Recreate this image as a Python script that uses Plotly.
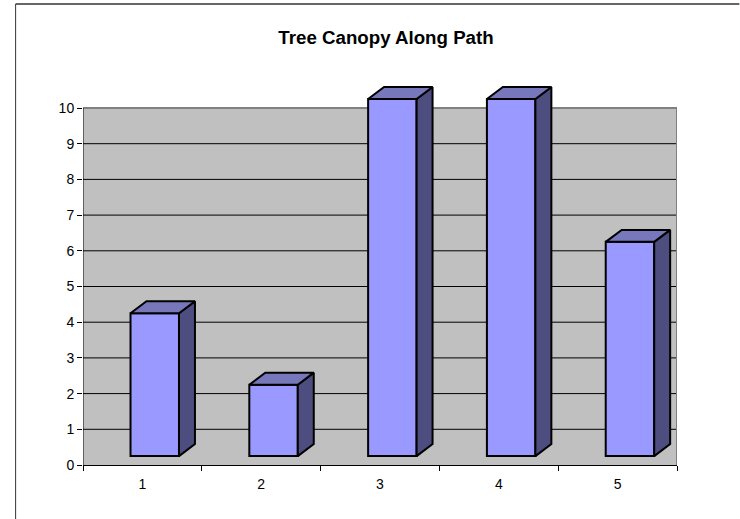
import plotly.graph_objects as go

categories = [1, 2, 3, 4, 5]
values = [4, 2, 10, 10, 6]
y_ticks = list(range(0, 11))

W, H = 740, 519
L, R, T, B = 82.5, 677.5, 85, 465
UNIT = 35.7
FRONT = "#9999FF"; TOP = "#7777BB"; SIDE = "#4D4D80"
LIFT = 0.25
START = -0.1; WIDTH = 0.408
DX = 16 / 119; DY = 12 / UNIT
X0, X1 = 0.5, 5.5
YMAX = (B - T) / UNIT


def px(v):
    return (v - L) / (R - L)


def py(v):
    return (B - v) / (B - T)


fig = go.Figure()
for c, v in zip(categories, values):
    x0 = c + START; x1 = x0 + WIDTH
    y0 = LIFT; y1 = LIFT + v
    fig.add_trace(go.Scatter(x=[x1, x1 + DX, x1 + DX, x1, x1], y=[y0, y0 + DY, y1 + DY, y1, y0],
                             fill="toself", fillcolor=SIDE, mode="lines",
                             line=dict(color="black", width=2), hoverinfo="skip"))
    fig.add_trace(go.Scatter(x=[x0, x0 + DX, x1 + DX, x1, x0], y=[y1, y1 + DY, y1 + DY, y1, y1],
                             fill="toself", fillcolor=TOP, mode="lines",
                             line=dict(color="black", width=2), hoverinfo="skip"))
fig.add_trace(go.Bar(x=categories, y=values, base=LIFT, offset=START, width=WIDTH,
                     marker=dict(color=FRONT, line=dict(color="black", width=2))))

shapes = [dict(type="rect", xref="x", yref="y", x0=X0, x1=X1, y0=0, y1=10,
               fillcolor="#C0C0C0", line=dict(width=0), layer="below")]
shapes += [dict(type="line", xref="x", yref="y", x0=X0, x1=X1, y0=t, y1=t,
                line=dict(color="black", width=1), layer="below") for t in y_ticks[1:-1]]
shapes += [
    dict(type="line", xref="x", yref="y", x0=X0, x1=X1, y0=10, y1=10,
         line=dict(color="#808080", width=2), layer="below"),
    dict(type="line", xref="x", yref="y", x0=X1, x1=X1, y0=0, y1=10,
         line=dict(color="#808080", width=2), layer="below"),
    dict(type="line", xref="x", yref="y", x0=X0, x1=X0, y0=0, y1=10,
         line=dict(color="black", width=1), layer="below"),
    # chart-area frame: only the top and left edges are in view
    dict(type="line", xref="paper", yref="paper", x0=px(15), x1=px(W), y0=py(4), y1=py(4),
         line=dict(color="#333333", width=1.5)),
    dict(type="line", xref="paper", yref="paper", x0=px(15), x1=px(15), y0=py(4), y1=py(H),
         line=dict(color="#333333", width=1)),
]

fig.update_layout(
    width=W, height=H, showlegend=False, paper_bgcolor="white", plot_bgcolor="white",
    margin=dict(l=L, r=W - R, t=T, b=H - B), barmode="overlay",
    font=dict(family="Liberation Sans, Arial, sans-serif", size=14, color="black"),
    title=dict(text="<b>Tree Canopy Along Path</b>", x=386 / W, xanchor="center", y=1 - 37 / H,
               yanchor="middle", font=dict(size=18.7, color="black")),
    xaxis=dict(range=[X0, X1], tickvals=categories, ticks="", showgrid=False, zeroline=False,
               showline=True, linecolor="black", linewidth=1,
               minor=dict(tickvals=[0.5, 1.5, 2.5, 3.5, 4.5, 5.5], ticks="outside", ticklen=5,
                          tickcolor="black", tickwidth=1, showgrid=False),
               ticklabelstandoff=6),
    yaxis=dict(range=[0, YMAX], tickvals=y_ticks, ticks="outside", ticklen=5, tickcolor="black",
               showgrid=False, zeroline=False, showline=False),
    shapes=shapes,
)
fig.write_html("out.html", config={"displayModeBar": False},
               post_script="document.body.style.margin='0';document.body.style.overflow='hidden';")
